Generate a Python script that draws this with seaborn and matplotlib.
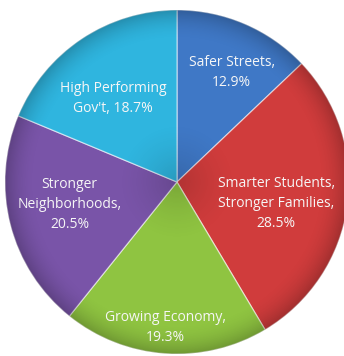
import numpy as np
import matplotlib
matplotlib.use("Agg")
import matplotlib.pyplot as plt
from matplotlib.patches import Circle
import seaborn as sns

categories = ["Safer Streets", "Smarter Students, Stronger Families", "Growing Economy",
              "Stronger Neighborhoods", "High Performing Gov't"]
shares = [12.9, 28.5, 19.3, 20.5, 18.7]
label_text = ["Safer Streets,\n12.9%", "Smarter Students,\nStronger Families,\n28.5%",
              "Growing Economy,\n19.3%", "Stronger\nNeighborhoods,\n20.5%",
              "High Performing\nGov't, 18.7%"]
slice_colors = ["#3f78c6", "#d03c3c", "#8fc441", "#7954a8", "#2fb5df"]

sns.set_style("white")
plt.rcParams["font.family"] = ["Open Sans", "DejaVu Sans"]

fig = plt.figure(figsize=(3.44, 3.56), dpi=100)
ax = fig.add_axes([0, 0, 1, 1])
palette = sns.color_palette(slice_colors)

wedges, _ = ax.pie(shares, colors=palette, startangle=90, counterclock=False,
                   radius=1.0, center=(0, 0),
                   wedgeprops=dict(edgecolor=(1, 1, 1, 0.55), linewidth=0.9))

# soft bevel: darken toward the rim and toward the centre
xs = np.linspace(-1.05, 1.05, 400)
X, Y = np.meshgrid(xs, xs)
R = np.hypot(X, Y)
rim = np.clip((R - 0.82) / 0.18, 0, 1) ** 2
core = np.clip(1 - R / 0.35, 0, 1) ** 1.5
alpha = 0.22 * rim + 0.15 * core
shade = np.zeros((400, 400, 4))
shade[..., 3] = alpha
img = ax.imshow(shade, extent=(-1.05, 1.05, -1.05, 1.05), origin="lower",
                interpolation="bilinear", zorder=3)
img.set_clip_path(Circle((0, 0), 1.0, transform=ax.transData))

# radial distance and angular nudge of each label inside its slice
label_dist = [0.714, 0.59, 0.846, 0.638, 0.61]
label_nudge = [-3.2, -4.2, -0.7, -2.6, 3.9]
for w, txt, d, nd in zip(wedges, label_text, label_dist, label_nudge):
    mid = np.deg2rad((w.theta1 + w.theta2) / 2 + nd)
    ax.text(d * np.cos(mid), d * np.sin(mid), txt, ha="center", va="center",
            color="#f6f6f6", fontsize=10, linespacing=1.45, zorder=4)

ax.set_xlim(-177 / 172, 167 / 172)
ax.set_ylim(-174 / 172, 182 / 172)
ax.set_aspect("auto")
ax.axis("off")

fig.savefig("out.png", dpi=100, facecolor="white")
